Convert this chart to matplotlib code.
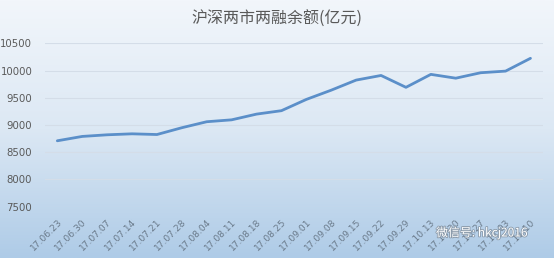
import matplotlib
matplotlib.use("Agg")
import matplotlib.pyplot as plt
import matplotlib.patheffects as pe
import numpy as np
from matplotlib.colors import LinearSegmentedColormap

plt.rcParams['font.family'] = ['Noto Sans CJK SC', 'DejaVu Sans']

dates = ["17.06.23", "17.06.30", "17.07.07", "17.07.14", "17.07.21", "17.07.28",
         "17.08.04", "17.08.11", "17.08.18", "17.08.25", "17.09.01", "17.09.08",
         "17.09.15", "17.09.22", "17.09.29", "17.10.13", "17.10.20", "17.10.27",
         "17.11.03", "17.11.10"]
balance = [8710, 8790, 8820, 8838, 8825, 8950, 9060, 9095, 9200, 9263,
           9470, 9640, 9825, 9910, 9692, 9930, 9860, 9960, 9990, 10225]
yticks = [7500, 8000, 8500, 9000, 9500, 10000, 10500]
title = "沪深两市两融余额(亿元)"
watermark = "微信号: hkcj2016"

fig = plt.figure(figsize=(5.54, 2.58), dpi=100)

# gradient background
bg = fig.add_axes([0, 0, 1, 1], zorder=0)
cmap = LinearSegmentedColormap.from_list("bg", ["#f2f6fb", "#dce8f4", "#aecbe7"])
grad = np.linspace(0, 1, 256).reshape(-1, 1)
bg.imshow(grad, aspect="auto", cmap=cmap, extent=[0, 1, 0, 1], origin="upper")
bg.set_axis_off()

ax = fig.add_axes([0.081, 0.199, 0.899, 0.633], zorder=1)
ax.patch.set_alpha(0)
x = np.arange(len(dates))
ax.plot(x, balance, color="#5b8fc9", linewidth=2.0, solid_capstyle="round", zorder=3)
ax.set_xlim(-0.5, len(dates) - 0.5)
ax.set_ylim(7500, 10500)
ax.set_yticks(yticks)
ax.set_yticklabels([str(v) for v in yticks], fontsize=7.3, color="#595959",
                   family="DejaVu Sans")
ax.set_xticks(x)
ax.set_xticklabels(dates, rotation=45, ha="right", rotation_mode="anchor",
                   fontsize=6.6, color="#6a7a8a", family="DejaVu Sans")
ax.tick_params(axis="y", length=0, pad=9)
ax.tick_params(axis="x", length=0, pad=8)
ax.grid(axis="y", color="#d4dde8", linewidth=0.8)
for s in ax.spines.values():
    s.set_visible(False)

fig.text(0.5, 0.925, title, ha="center", va="center", fontsize=11.5, color="#595959")

fig.text(0.787, 0.097, watermark, ha="left", va="center", fontsize=8.6, color="white",
         path_effects=[pe.withStroke(linewidth=1.2, foreground="#8a9aaa")], zorder=5)

fig.savefig("out.png", dpi=100)
